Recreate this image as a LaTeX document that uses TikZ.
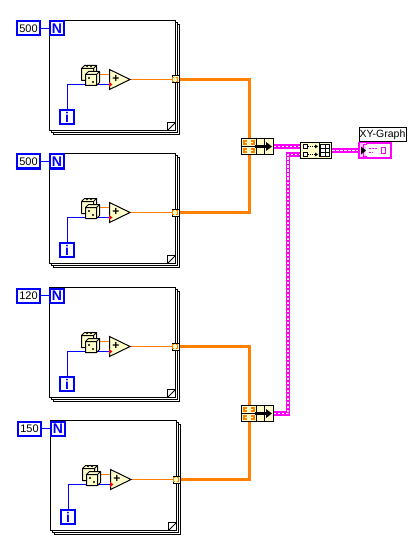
\documentclass[tikz,border=0pt]{standalone}
\usepackage{fontspec}
\setmainfont{Liberation Sans}
\definecolor{lvblue}{RGB}{0,0,255}
\definecolor{lvorange}{RGB}{255,128,0}
\definecolor{lvpink}{RGB}{255,0,255}
\definecolor{lvcream}{RGB}{255,255,204}
\tikzset{
  x=1pt,y=-1pt,
  loopframe/.style={draw=black,line width=1pt,fill=white},
  bluebox/.style={draw=lvblue,line width=2pt,fill=white,inner sep=0pt,minimum width=14pt,minimum height=14pt,font=\fontsize{14}{14}\selectfont\bfseries,text=lvblue},
  constbox/.style={draw=lvblue,line width=2pt,fill=white,inner sep=0pt,minimum width=23pt,minimum height=14pt,font=\fontsize{11}{12}\selectfont},
  bluewire/.style={draw=lvblue,line width=1pt},
  thinorange/.style={draw=lvorange,line width=1pt},
  thickorange/.style={draw=lvorange,line width=2.5pt},
  pinkwire/.style={draw=lvpink,line width=4.5pt,postaction={draw=white,line width=1.2pt,dash pattern=on 2.5pt off 1.5pt}},
  tunnel/.style={draw=black,line width=1pt,fill=lvcream,inner sep=0pt,minimum width=7pt,minimum height=7pt},
  iconbox/.style={draw=black,line width=1pt,fill=lvcream,inner sep=0pt},
}
% single die: front face top-left at (#1,#2), face size #3
\newcommand{\lvdie}[3]{%
  \fill[lvcream,draw=black,line width=1pt,line join=round] (#1,#2) -- ++(3,-3) -- ++(#3,0) -- ++(0,#3) -- ++(-3,3) -- ++(-#3,0) -- cycle;
  \draw[black,line width=1pt] (#1,#2) -- ++(#3,0) -- ++(3,-3) ++(-3,3) -- ++(0,#3);
}
% name, dx, dy, count
\newcommand{\lvloop}[4]{%
\begin{scope}[shift={(#2,#3)}]
  \draw[loopframe] (53.5,24.5) rectangle (179.5,134.5);
  \draw[loopframe] (51.5,22.5) rectangle (177.5,132.5);
  \node[draw=black,line width=1pt,fill=white,minimum width=126pt,minimum height=110pt,inner sep=0pt] (#1frame) at (112.5,75.5) {};
  \fill[white,draw=black,line width=1pt] (167.5,130.5) -- (167.5,122.5) -- (175.5,122.5) -- (175.5,130.5) -- cycle;
  \draw[black,line width=0.8pt] (167.5,130.5) -- (175.5,122.5);
  \node[constbox] (#1c) at (28.5,28.5) {#4};
  \node[bluebox] (#1N) at (57,28.5) {N};
  \draw[bluewire] (#1c) -- (#1N);
  \node[bluebox] (#1i) at (67,117) {i};
  \coordinate (#1in1) at (109.5,74.5);
  \coordinate (#1in2) at (109.5,84.5);
  \coordinate (#1out) at (130,79.5);
  \coordinate (#1corner) at (67.5,84.5);
  \node[tunnel] (#1t) at (175.5,79.5) {};
  \draw[bluewire] (#1i.north) -- (#1i.north |- #1corner) -- (#1in2);
  \draw[thinorange] (95,74.5) -- (#1in1);
  \draw[thinorange] (#1out) -- (#1t);
  \lvdie{81.5}{68.5}{12}
  \lvdie{85.5}{74.5}{11}
  \fill (89,78) circle (1.1pt) (93,82) circle (1.1pt);
  \fill (87,66.5) circle (0.8pt) (91,66.5) circle (0.8pt) (95.5,66) circle (0.6pt);
  \fill[lvcream,draw=black,line width=1pt,line join=miter] (109.5,69.5) -- (130,79.5) -- (109.5,89.5) -- cycle;
  \node[inner sep=0pt,font=\fontsize{12}{12}\selectfont\bfseries] (#1add) at (116,79) {+};
  \fill[red] (109,82) -- (112.5,84.5) -- (109,87) -- cycle;
  \draw[lvorange,line width=1pt] (173.5,77.5) -- (172.5,77.5) -- (172.5,81.5) -- (173.5,81.5) (176,77.5) -- (177.5,77.5) -- (177.5,81.5) -- (176,81.5);
\end{scope}}
% build array, name, center x, center y
\newcommand{\lvbuild}[3]{%
  \node[iconbox,minimum width=32pt,minimum height=16pt] (#1) at (#2,#3) {};
  \draw[black,line width=1pt] (#1.west) -- ([xshift=-1pt]#1.center);
  \draw[black,line width=1pt] ([xshift=-1pt]#1.north) -- ([xshift=-1pt]#1.south);
  \draw[lvorange,line width=1.5pt]
    ([xshift=-10pt,yshift=5.5pt]#1.center) -- ++(-3,0) -- ++(0,3) -- ++(3,0)
    ([xshift=-6pt,yshift=5.5pt]#1.center) -- ++(3,0) -- ++(0,3) -- ++(-3,0)
    ([xshift=-10pt,yshift=-2.5pt]#1.center) -- ++(-3,0) -- ++(0,3) -- ++(3,0)
    ([xshift=-6pt,yshift=-2.5pt]#1.center) -- ++(3,0) -- ++(0,3) -- ++(-3,0);
  \draw[black,line width=1pt] ([xshift=7pt]#1.north) -- ([xshift=7pt]#1.south);
  \draw[black,line width=3pt] ([xshift=-2pt]#1.center) -- ([xshift=10pt]#1.center);
  \fill[black] ([xshift=9pt,yshift=4.5pt]#1.center) -- ([xshift=15pt]#1.center) -- ([xshift=9pt,yshift=-4.5pt]#1.center) -- cycle;
}
\begin{document}
\begin{tikzpicture}
\useasboundingbox (0,0) rectangle (418,548);
\fill[white] (0,0) rectangle (418,548);
\coordinate (j1) at (249.5,138);
\lvloop{a}{0}{0}{500}
\lvloop{b}{0}{133}{500}
\lvloop{c}{0}{267}{120}
\lvloop{d}{1}{400}{150}
\node[iconbox,minimum width=32pt,minimum height=16pt] (bA) at (257,146.5) {};
\node[iconbox,minimum width=32pt,minimum height=16pt] (bB) at (257,413.5) {};
\draw[thickorange] (at.east) -| (bA.north -| j1);
\draw[thickorange] (bt.east) -| (bA.south -| j1);
\draw[thickorange] (ct.east) -| (bB.north -| j1);
\draw[thickorange] (dt.east) -| (bB.south -| j1);
\lvbuild{bA}{257}{146.5}
\lvbuild{bB}{257}{413.5}
\node[iconbox,minimum width=31pt,minimum height=16pt] (arr) at (316,150.5) {};
\coordinate (arrin1) at (300,146.5);
\coordinate (arrin2) at (300,154.5);
\coordinate (bend) at (288,154.5);
\node[draw=lvpink,line width=1.5pt,fill=white,inner sep=0pt,minimum width=32pt,minimum height=15pt] (gr) at (375,150.5) {};
\node[draw=black,line width=1pt,fill=white,inner sep=0pt,minimum width=47pt,minimum height=14pt,font=\fontsize{10.5}{12}\selectfont] (lab) at (382.5,134.5) {XY-Graph};
\draw[pinkwire] (bA.east |- arrin1) -- (arrin1);
\draw[pinkwire] (bB.east) -| (bend) -- (arrin2);
\draw[pinkwire] (arr.east) -- (gr.west);
% array icon details
\draw[black,line width=1pt,fill=white] (303.5,144.5) rectangle (307.5,148.5) (303.5,152.5) rectangle (307.5,156.5);
\draw[black,line width=1pt,dash pattern=on 1pt off 1pt] (308,146.5) -- (315,146.5) (308,154.5) -- (315,154.5);
\fill (318,146.5) -- (315,144.5) -- (315,148.5) -- cycle (318,154.5) -- (315,152.5) -- (315,156.5) -- cycle;
\draw[black,line width=1pt] (320,144) -- (319,144) -- (319,157) -- (320,157);
\draw[black,line width=1pt,fill=white] (320.5,144.5) rectangle (329.5,156.5);
\draw[black,line width=1pt] (325,144.5) -- (325,156.5) (320.5,148.5) -- (329.5,148.5) (320.5,152.5) -- (329.5,152.5);
% graph icon
\fill[lvpink!22] (360,143.5) rectangle (366,157.5);
\draw[lvpink,line width=1pt] (366.5,144.5) -- (363.5,144.5) -- (363.5,156.5) -- (366.5,156.5);
\fill[black] (361,146.5) -- (366,150.5) -- (361,154.5) -- cycle;
\draw[lvpink,line width=1.4pt,dash pattern=on 2pt off 1pt] (369,148.5) -- (377,148.5) (369,152.5) -- (373,152.5);
\draw[lvpink,line width=1pt] (381.5,147.5) rectangle (385.5,153.5);
\end{tikzpicture}
\end{document}
